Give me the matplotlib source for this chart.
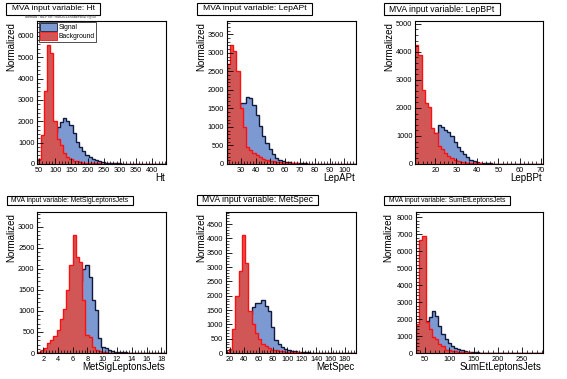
import numpy as np
import matplotlib
matplotlib.use('Agg')
from matplotlib import pyplot as plt
from matplotlib.ticker import MultipleLocator
from matplotlib.patches import Rectangle, Patch

plt.rcParams['font.family'] = ['Liberation Sans', 'DejaVu Sans']

#%% DATA (40 bins per variable)
variables = ['Ht', 'LepAPt', 'LepBPt', 'MetSigLeptonsJets', 'MetSpec', 'SumEtLeptonsJets']
x_ranges = [(44, 442), (20.5, 107.7), (10.5, 71), (1.2, 18.6), (14, 195), (32, 292)]

ht_sig = [0, 40, 250, 600, 1000, 1500, 1750, 1950, 2150, 2000, 1850, 1450, 1050, 800, 600, 430, 320, 230, 170, 120,
          90, 70, 50, 40, 30, 25, 20, 15, 12, 10, 8, 6, 5, 4, 3, 3, 2, 2, 1, 1]
ht_bkg = [220, 1360, 3440, 5590, 5200, 2000, 1150, 900, 500, 350, 230, 160, 120, 90, 70, 55, 45, 35, 30, 25,
          20, 16, 13, 10, 8, 6, 5, 4, 3, 3, 2, 2, 1, 1, 1, 1, 0, 0, 0, 0]

lepa_sig = [300, 600, 900, 1300, 1640, 1650, 1800, 1780, 1600, 1330, 1030, 760, 560, 400, 270, 160, 120, 90, 65, 50,
            40, 30, 24, 19, 15, 12, 10, 8, 6, 5, 4, 3, 3, 2, 2, 2, 1, 1, 1, 1]
lepa_bkg = [2700, 3200, 3050, 2500, 1500, 1000, 450, 380, 300, 230, 180, 140, 110, 90, 70, 55, 45, 38, 30, 25,
            20, 16, 13, 10, 8, 7, 6, 5, 4, 3, 3, 2, 2, 2, 1, 1, 1, 1, 1, 1]

lepb_sig = [100, 200, 350, 500, 700, 900, 1100, 1400, 1330, 1200, 1130, 1000, 800, 600, 470, 350, 240, 160, 110, 75,
            50, 35, 25, 18, 13, 10, 8, 6, 5, 4, 3, 3, 2, 2, 1, 1, 1, 1, 1, 0]
lepb_bkg = [4250, 3900, 2650, 2180, 2050, 1300, 1100, 650, 550, 400, 300, 200, 150, 110, 80, 60, 45, 35, 28, 22,
            18, 14, 11, 9, 7, 6, 5, 4, 3, 3, 2, 2, 2, 1, 1, 1, 1, 1, 0, 0]

msig_sig = [0, 5, 10, 20, 40, 70, 120, 200, 320, 480, 700, 950, 1300, 1700, 2000, 2085, 1800, 1260, 1020, 350,
            150, 110, 70, 50, 35, 25, 18, 12, 9, 7, 5, 4, 3, 2, 2, 1, 1, 1, 0, 0]
msig_bkg = [30, 70, 130, 230, 300, 400, 550, 800, 1050, 1500, 2100, 2800, 2280, 2170, 1260, 430, 390, 150, 70, 40,
            25, 15, 10, 8, 6, 5, 4, 3, 2, 2, 2, 1, 1, 1, 1, 1, 0, 0, 0, 0]

mspec_sig = [0, 10, 40, 120, 300, 550, 900, 1350, 1610, 1730, 1750, 1840, 1650, 1450, 900, 450, 300, 200, 150, 100,
             70, 55, 40, 30, 25, 20, 15, 12, 10, 8, 6, 5, 4, 3, 3, 2, 2, 1, 1, 1]
mspec_bkg = [50, 150, 850, 2000, 2850, 4130, 3150, 1450, 1000, 700, 480, 320, 230, 170, 120, 90, 70, 55, 45, 35,
             28, 22, 18, 14, 11, 9, 7, 6, 5, 4, 3, 3, 2, 2, 2, 1, 1, 1, 1, 1]

sumet_sig = [200, 700, 1500, 1910, 2150, 2450, 2200, 1610, 1120, 850, 600, 400, 300, 220, 150, 110, 80, 60, 45, 35,
             28, 22, 17, 13, 10, 8, 6, 5, 4, 3, 3, 2, 2, 2, 1, 1, 1, 1, 1, 1]
sumet_bkg = [1700, 6650, 6900, 1800, 1420, 920, 830, 530, 430, 200, 180, 120, 90, 70, 50, 40, 30, 25, 20, 15,
             12, 10, 8, 6, 5, 4, 3, 3, 2, 2, 2, 1, 1, 1, 1, 1, 0, 0, 0, 0]

signal = [ht_sig, lepa_sig, lepb_sig, msig_sig, mspec_sig, sumet_sig]
background = [ht_bkg, lepa_bkg, lepb_bkg, msig_bkg, mspec_bkg, sumet_bkg]

#%% LAYOUT (pixels)
W, H = 567, 379
# frame: left, top, right, bottom
frames = [(37.3, 21, 165.7, 164), (226.7, 21, 355.7, 164), (415.3, 21, 542.7, 164),
          (37.3, 211.7, 165.7, 353), (225.7, 211.7, 355.7, 353), (416, 211.7, 542.7, 353)]
title_boxes = [(6, 3, 100, 15), (197, 3, 312, 15), (384, 3, 500, 15),
               (6.7, 195.7, 132.7, 204.7), (196.7, 195, 317.7, 205), (384.3, 195.7, 509.7, 204.7)]
title_sizes = [6, 6.1, 6.2, 4.9, 6.2, 4.9]
ylabel_x = [11.7, 201.2, 389.5, 11.5, 201, 388.5]
ytops = [6700, 3860, 5100, 3356, 4930, 8330]
ymajor = [1000, 500, 1000, 500, 500, 1000]
xmajor = [50, 10, 10, 2, 20, 50]

SIG_FILL = '#7d99d1'
SIG_LINE = '#111a3c'
BKG_FILL = '#d15656'
BKG_LINE = '#ff1010'

fig = plt.figure(figsize=(W / 100, H / 100), dpi=100)

for i in range(6):
    l, t, r, b = frames[i]
    ax = fig.add_axes([l / W, 1 - b / H, (r - l) / W, (b - t) / H])
    edges = np.linspace(x_ranges[i][0], x_ranges[i][1], len(signal[i]) + 1)

    # signal first, background on top
    ax.stairs(signal[i], edges, fill=True, color=SIG_FILL, lw=0)
    ax.stairs(signal[i], edges, color=SIG_LINE, lw=1.0, baseline=0)
    ax.stairs(background[i], edges, fill=True, color=BKG_FILL, lw=0)
    ax.stairs(background[i], edges, color=BKG_LINE, lw=1.0, baseline=0)

    ax.set_xlim(x_ranges[i])
    ax.set_ylim(0, ytops[i])
    ax.xaxis.set_major_locator(MultipleLocator(xmajor[i]))
    ax.xaxis.set_minor_locator(MultipleLocator(xmajor[i] / 5))
    ax.yaxis.set_major_locator(MultipleLocator(ymajor[i]))
    ax.yaxis.set_minor_locator(MultipleLocator(ymajor[i] / 5))
    ax.tick_params(which='both', direction='in', top=False, right=False, labelsize=5.3, pad=2)
    ax.tick_params(which='major', length=4, width=0.6)
    ax.tick_params(which='minor', length=2, width=0.5)
    for s in ax.spines.values():
        s.set_linewidth(0.8)

    # axis titles, ROOT style
    fig.text(ylabel_x[i] / W, 1 - (t + 1) / H, 'Normalized', rotation=90,
             ha='center', va='top', fontsize=7)
    fig.text((r - 1) / W, 1 - (b + 14.5) / H, variables[i], ha='right', va='center', fontsize=7)

    # title box
    bl, bt, br, bb = title_boxes[i]
    fig.patches.append(Rectangle((bl / W, 1 - bb / H), (br - bl) / W, (bb - bt) / H,
                                 transform=fig.transFigure, facecolor='white',
                                 edgecolor='black', lw=0.8))
    fig.text((bl + br) / 2 / W, 1 - (bt + bb) / 2 / H, 'MVA input variable: ' + variables[i],
             ha='center', va='center', fontsize=title_sizes[i])

    if i == 0:
        handles = [Patch(facecolor=SIG_FILL, edgecolor=SIG_LINE, lw=0.6, label='Signal'),
                   Patch(facecolor=BKG_FILL, edgecolor=BKG_LINE, lw=0.6, label='Background')]
        leg = ax.legend(handles=handles, loc='upper left', bbox_to_anchor=(0.01, 0.995),
                        fontsize=4.9, frameon=True, fancybox=False, borderpad=0.25,
                        handlelength=2.4, handleheight=1.3, handletextpad=0.3,
                        labelspacing=0.15, borderaxespad=0)
        leg.get_frame().set_edgecolor('black')
        leg.get_frame().set_linewidth(0.6)

fig.text(25 / W, 1 - 16.5 / H, 'Method : MLP for: Run2013StudiesBDT@50', fontsize=2.6,
         ha='left', va='center', color='#333333')

plt.savefig('out.png', dpi=100)
